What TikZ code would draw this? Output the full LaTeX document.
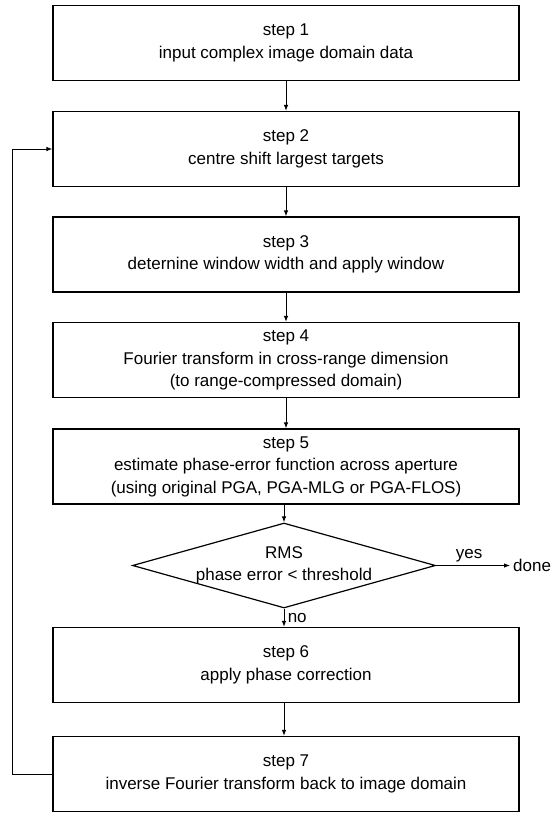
\documentclass[tikz,border=0pt]{standalone}
\usepackage{fontspec}
\setmainfont{Liberation Sans}
\usepackage{tikz}
\usetikzlibrary{arrows.meta}
\usetikzlibrary{shapes.geometric}
\tikzset{>={Latex[length=6pt,width=4.5pt]}}
\tikzstyle{stepbox}=[draw,line width=1.2pt,minimum width=466pt,minimum height=75pt,align=center,inner sep=0pt]
\tikzstyle{decision}=[draw,shape=diamond,line width=1.2pt,minimum width=303pt,minimum height=85pt,inner sep=0pt]
\tikzstyle{flow}=[->,line width=0.9pt]

\begin{document}
\begin{tikzpicture}[x=1pt,y=-1pt,font=\fontsize{17}{22.5}\selectfont]
            \def\xc{286}  % centre line of the chart
            \useasboundingbox (0,0) rectangle (558,813);
            \node[stepbox] (s1) at (\xc,43) {step 1\\input complex image domain data};
            \node[stepbox] (s2) at (\xc,149) {step 2\\centre shift largest targets};
            \node[stepbox] (s3) at (\xc,254.5) {step 3\\deternine window width and apply window};
            \node[stepbox] (s4) at (\xc,360) {step 4\\Fourier transform in cross-range dimension\\(to range-compressed domain)};
            \node[stepbox] (s5) at (\xc,466.5) {step 5\\estimate phase-error function across aperture\\(using original PGA, PGA-MLG or PGA-FLOS)};
            \node[decision] (rms) at (\xc-2,565.5) {};
            \node[align=center] (rmstext) at (rms.center) {RMS\\phase error < threshold};
            \node[stepbox] (s6) at (\xc,665) {step 6\\apply phase correction};
            \node[stepbox] (s7) at (\xc,774) {step 7\\inverse Fourier transform back to image domain};
            \node[anchor=west,inner sep=3pt] (done) at (510,565.5) {done};
            \coordinate (back) at (12,0);

            \draw[flow] (s1) -- (s2);
            \draw[flow] (s2) -- (s3);
            \draw[flow] (s3) -- (s4);
            \draw[flow] (s4) -- (s5);
            \draw[flow] (s5.south -| rms.north) -- (rms.north);
            \draw[flow] (rms.east) -- (done.west) node[midway,above,xshift=-4pt] {yes};
            \draw[flow] (rms.south) -- (rms.south |- s6.north) node[midway,right] {no};
            \draw[flow] (s6.south -| rms.south) -- (rms.south |- s7.north);
            \draw[flow] (s7.west) -- (s7.west -| back) |- (s2.west);
        \end{tikzpicture}
\end{document}
